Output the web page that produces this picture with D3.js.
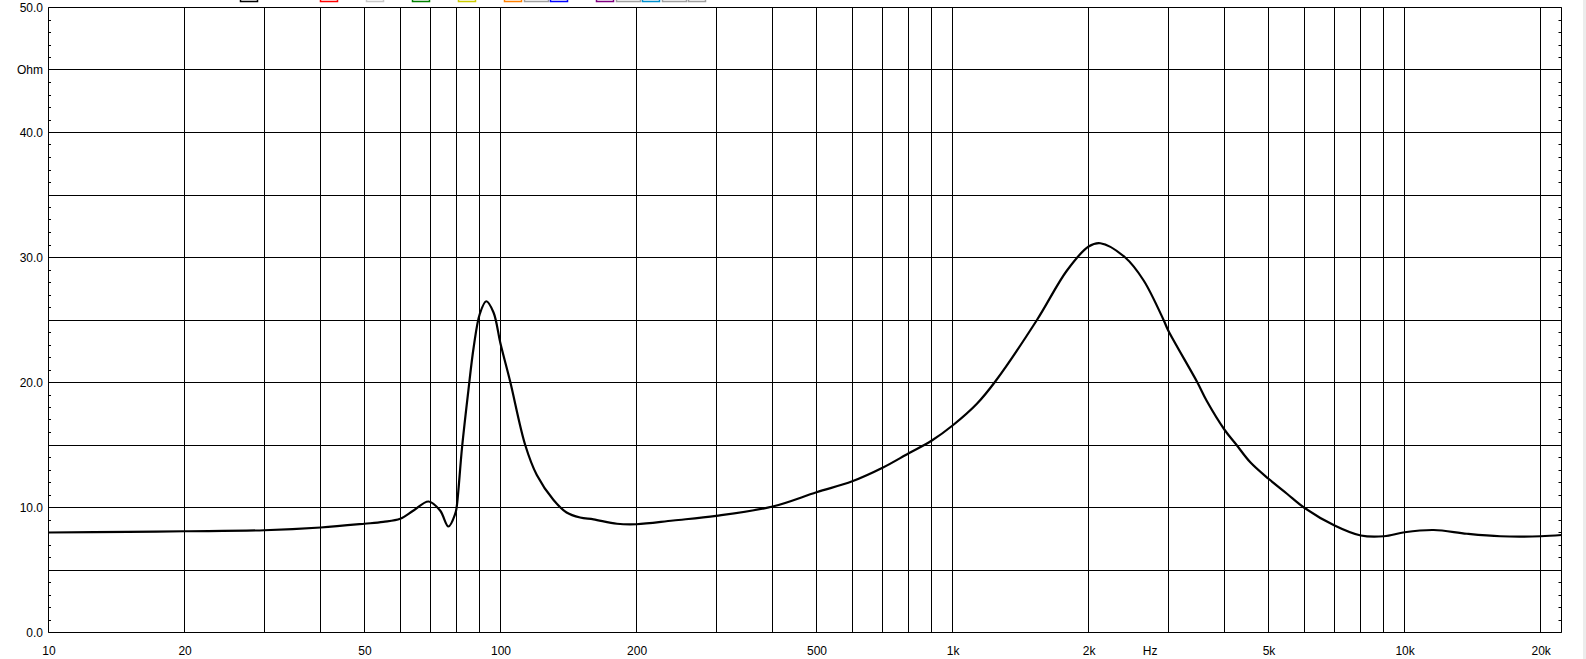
<!DOCTYPE html>
<html>
<head>
<meta charset="utf-8">
<script src="https://cdn.jsdelivr.net/npm/d3@7"></script>
<style>
  html, body { margin: 0; padding: 0; background: #ffffff; }
  svg { display: block; }
  text { font-family: "Liberation Sans", Arial, sans-serif; font-size: 12px; fill: #000; }
</style>
</head>
<body>
<svg id="chart" width="1586" height="659"></svg>
<script>
// ---- data ----
const freqHz = [10, 15, 20, 30, 40, 50, 55, 60, 64.2, 69.3, 73.5, 76.7, 79.4, 80, 82.2, 84.9, 87.2, 90, 93, 96.5, 100, 105, 113.4, 120.3, 131, 140, 150, 160.6, 181, 200, 241, 300, 400, 500, 600, 700, 800, 900, 1000, 1132, 1243, 1537, 1791, 2000, 2123, 2410, 2647, 2930, 3000, 3474, 3654, 4000, 4258, 4557, 5000, 5493, 6000, 7000, 8000, 9000, 10000, 11600, 13740, 16280, 20000, 22240];
const impedanceOhm = [8.0, 8.05, 8.1, 8.18, 8.4, 8.7, 8.85, 9.1, 9.76, 10.48, 9.76, 8.48, 9.5, 10.06, 14.8, 19.36, 22.8, 25.5, 26.5, 25.6, 23.1, 20.1, 15.0, 12.6, 10.6, 9.6, 9.2, 9.05, 8.7, 8.66, 8.96, 9.33, 10.08, 11.22, 12.1, 13.18, 14.34, 15.36, 16.56, 18.3, 20.08, 25.0, 28.96, 30.88, 31.14, 30.0, 28.16, 25.0, 24.16, 20.06, 18.5, 16.2, 14.96, 13.62, 12.3, 11.1, 9.98, 8.56, 7.76, 7.7, 8.02, 8.2, 7.9, 7.7, 7.7, 7.8];

const xTickValues = [10, 20, 50, 100, 200, 500, 1000, 2000, 5000, 10000, 20000];
const xTickLabels = ["10", "20", "50", "100", "200", "500", "1k", "2k", "5k", "10k", "20k"];
const xUnitLabel = "Hz";
const xUnitAt = 2735;
const yTickValues = [0, 10, 20, 30, 40, 45, 50];
const yTickLabels = ["0.0", "10.0", "20.0", "30.0", "40.0", "Ohm", "50.0"];
const legendColors = ["#000000", "#ff0000", "#c8c8c8", "#008000", "#cccc00", "#ff8000", "#a0a0a0", "#0000ff", "#800080", "#a0a0a0", "#0090d0", "#a0a0a0", "#a0a0a0"];

// ---- layout ----
const padL = 48.5, padR = 1561.5, padT = 7.5, padB = 632.5;
const svg = d3.select("#chart");

const x = d3.scaleLog().domain([10, 22240]).range([padL, padR]);
const y = d3.scaleLinear().domain([0, 50]).range([padB, padT]);
const px = v => Math.round(x(v) - 0.5) + 0.5;
const py = v => Math.round(y(v) - 0.5) + 0.5;

// light strip at far right
svg.append("rect").attr("x", 1583).attr("y", 0).attr("width", 3).attr("height", 659).attr("fill", "#ececec");

// legend swatches (clipped at top)
const legendLayout = [[240,17],[320,17],[366,17],[412,17],[458,17],[504,17],[524,24],[550,17],[596,17],[616,24],[642,17],[662,24],[688,17]];
svg.append("g").selectAll("rect").data(legendColors).join("rect")
  .attr("x", (d, i) => legendLayout[i][0] + 0.5)
  .attr("y", -12)
  .attr("width", (d, i) => legendLayout[i][1])
  .attr("height", 13.5)
  .attr("fill", "#fff")
  .attr("stroke", d => d)
  .attr("stroke-width", 1.5);

// grid: horizontal every 5 ohm
const hVals = d3.range(0, 51, 5);
svg.append("g").selectAll("line").data(hVals).join("line")
  .attr("x1", padL).attr("x2", padR)
  .attr("y1", d => py(d)).attr("y2", d => py(d))
  .attr("stroke", "#000").attr("stroke-width", 1);

// grid: vertical lines at 1..9 x decade
const vVals = [];
for (let dec = 10; dec <= 10000; dec *= 10) {
  for (let m = 1; m <= 9; m++) { vVals.push(dec * m); }
}
vVals.push(20000);
svg.append("g").selectAll("line").data(vVals).join("line")
  .attr("x1", d => px(d)).attr("x2", d => px(d))
  .attr("y1", padT).attr("y2", padB)
  .attr("stroke", "#000").attr("stroke-width", 1);

// right border
svg.append("line").attr("x1", padR).attr("x2", padR).attr("y1", padT).attr("y2", padB)
  .attr("stroke", "#000").attr("stroke-width", 1);

// minor ticks every 1 ohm on left and right (inward)
const minor = d3.range(0, 51, 1);
svg.append("g").selectAll("line").data(minor).join("line")
  .attr("x1", padL).attr("x2", padL + 2.5)
  .attr("y1", d => py(d)).attr("y2", d => py(d))
  .attr("stroke", "#000");
svg.append("g").selectAll("line").data(minor).join("line")
  .attr("x1", padR - 3).attr("x2", padR)
  .attr("y1", d => py(d)).attr("y2", d => py(d))
  .attr("stroke", "#000");

// y axis labels
const yAxis = d3.axisLeft(y).tickValues(yTickValues)
  .tickFormat((d, i) => yTickLabels[i]).tickSize(0).tickPadding(0);
const gy = svg.append("g").attr("transform", `translate(${padL - 5.5},0)`).call(yAxis);
gy.select(".domain").remove();
gy.selectAll("text").style("font-family", '"Liberation Sans", Arial, sans-serif').style("font-size", "12px").attr("fill", "#000");

// x axis labels
const xAxis = d3.axisBottom(x).tickValues(xTickValues)
  .tickFormat((d, i) => xTickLabels[i]).tickSize(0).tickPadding(0);
const gx = svg.append("g").attr("transform", `translate(0,${padB + 14})`).call(xAxis);
gx.select(".domain").remove();
gx.selectAll("text").style("font-family", '"Liberation Sans", Arial, sans-serif').style("font-size", "12px").attr("fill", "#000");
svg.append("text").attr("x", x(xUnitAt)).attr("y", padB + 14).attr("dy", "0.71em")
  .attr("text-anchor", "middle").text(xUnitLabel);

// impedance curve
const pts = freqHz.map((f, i) => [f, impedanceOhm[i]]);
const line = d3.line().x(d => x(d[0])).y(d => y(d[1])).curve(d3.curveCatmullRom.alpha(0.5));
svg.append("path").datum(pts).attr("d", line)
  .attr("fill", "none").attr("stroke", "#000").attr("stroke-width", 2.2)
  .attr("stroke-linejoin", "round");
</script>
</body>
</html>
